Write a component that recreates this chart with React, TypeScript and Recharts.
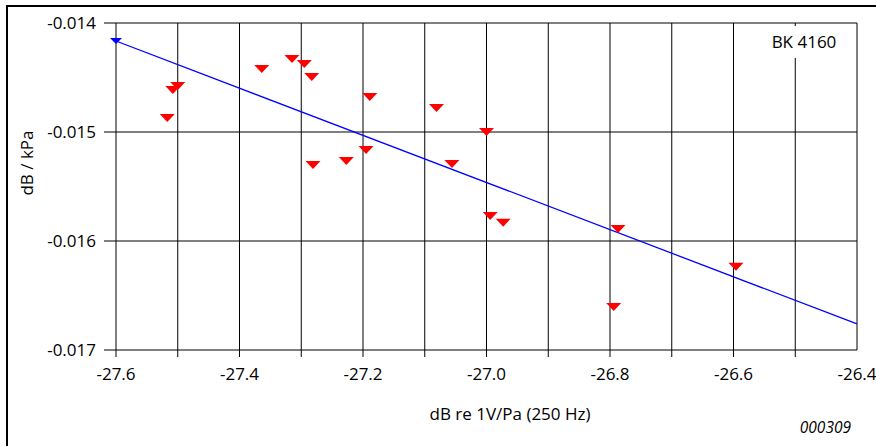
import React from 'react';
import {
  ScatterChart,
  Scatter,
  XAxis,
  YAxis,
  CartesianGrid,
  Customized,
} from 'recharts';

// measured points (sensitivity vs. pressure coefficient)
const measX = [
  -27.517, -27.508, -27.5, -27.364, -27.315, -27.295, -27.283, -27.189, -27.081, -27.0,
  -27.195, -27.227, -27.281, -27.056, -26.994, -26.973, -26.787, -26.596, -26.794,
];
const measY = [
  -0.014872, -0.014615, -0.014578, -0.014422, -0.01433, -0.014376, -0.014495, -0.014679,
  -0.01478, -0.015, -0.015165, -0.015266, -0.015303, -0.015294, -0.015771, -0.015832,
  -0.01589, -0.016236, -0.016606,
];

// regression line end points
const fitX = [-27.6, -26.4];
const fitY = [-0.014165, -0.016761];

const xTicks = [-27.6, -27.5, -27.4, -27.3, -27.2, -27.1, -27.0, -26.9, -26.8, -26.7, -26.6, -26.5, -26.4];
const xLabelTicks = [-27.6, -27.4, -27.2, -27.0, -26.8, -26.6, -26.4];
const yTicks = [-0.017, -0.016, -0.015, -0.014];

const FONT = '"Open Sans", sans-serif';
const X_TICK_SIZE = 7;
const X_TICK_MARGIN = 11;

const points = measX.map((x, i) => ({ x, y: measY[i] }));
const fitData = fitX.map((x, i) => ({ x, y: fitY[i], marker: i === 0 }));

const same = (a: number, b: number) => Math.abs(a - b) < 1e-6;

const RedTriangle = (props: any) => {
  const { cx, cy } = props;
  if (cx == null || cy == null) return null;
  return <polygon points={`${cx - 7.5},${cy - 4} ${cx + 7.5},${cy - 4} ${cx},${cy + 4}`} fill="#ff0000" />;
};

const BlueTriangle = (props: any) => {
  const { cx, cy, payload } = props;
  if (cx == null || cy == null || !payload?.marker) return <g />;
  return <polygon points={`${cx - 6},${cy - 3} ${cx + 6},${cy - 3} ${cx},${cy + 3}`} fill="#0000ff" />;
};

const XTick = ({ x, y, payload }: any) => {
  const v = payload.value;
  const isLast = same(v, xTicks[xTicks.length - 1]);
  const showLabel = xLabelTicks.some((t) => same(t, v));
  const top = y - X_TICK_MARGIN - X_TICK_SIZE;
  return (
    <g>
      {!isLast && <line x1={x} x2={x} y1={top} y2={top + X_TICK_SIZE} stroke="#000" strokeWidth={1} />}
      {showLabel && (
        <text x={x} y={y} dy="0.71em" textAnchor="middle" fill="#000" fontSize={17} fontFamily={FONT}>
          {v.toFixed(1)}
        </text>
      )}
    </g>
  );
};

const Decorations = () => (
  <g>
    <line x1={7} y1={6} x2={876} y2={6} stroke="#000" strokeWidth={2} />
    <line x1={7} y1={5} x2={7} y2={446} stroke="#000" strokeWidth={2} />
    <rect x={766} y={26} width={74} height={32} fill="#fff" />
    <text x={804} y={48} textAnchor="middle" fontSize={17} fontFamily={FONT} fill="#000">
      BK 4160
    </text>
    <text x={26} y={163} transform="rotate(-90 26 163)" textAnchor="middle" dominantBaseline="central"
      fontSize={17} fontFamily={FONT} fill="#000">
      dB / kPa
    </text>
    <text x={510} y={420} textAnchor="middle" fontSize={17} fontFamily={FONT} fill="#000">
      dB re 1V/Pa (250 Hz)
    </text>
    <text x={851} y={433} textAnchor="end" fontSize={15.5} fontStyle="italic" fontFamily={FONT} fill="#000">
      000309
    </text>
  </g>
);

export default function App() {
  return (
    <div style={{ position: 'absolute', left: 0, top: 0, width: 876, height: 446, background: '#fff' }}>
      <ScatterChart width={876} height={446} margin={{ top: 23, right: 19, bottom: 0, left: 0 }}>
        <CartesianGrid stroke="#000" strokeWidth={1} strokeDasharray="" fill="none" />
        <XAxis
          type="number"
          dataKey="x"
          domain={[-27.6, -26.4]}
          ticks={xTicks}
          interval={0}
          axisLine={false}
          tickLine={false}
          tickSize={X_TICK_SIZE}
          tickMargin={X_TICK_MARGIN}
          height={96}
          tick={<XTick />}
        />
        <YAxis
          type="number"
          dataKey="y"
          domain={[-0.017, -0.014]}
          ticks={yTicks}
          interval={0}
          width={116}
          axisLine={false}
          tickLine={{ stroke: '#000', strokeWidth: 1 }}
          tickSize={12}
          tickMargin={8}
          tick={{ fill: '#000', fontSize: 17, fontFamily: FONT }}
          tickFormatter={(v: number) => v.toFixed(3)}
        />
        <Scatter
          data={fitData}
          line={{ stroke: '#0000ff', strokeWidth: 1.3 }}
          shape={<BlueTriangle />}
          isAnimationActive={false}
        />
        <Scatter data={points} shape={<RedTriangle />} isAnimationActive={false} />
        <Customized component={<Decorations />} />
      </ScatterChart>
    </div>
  );
}
